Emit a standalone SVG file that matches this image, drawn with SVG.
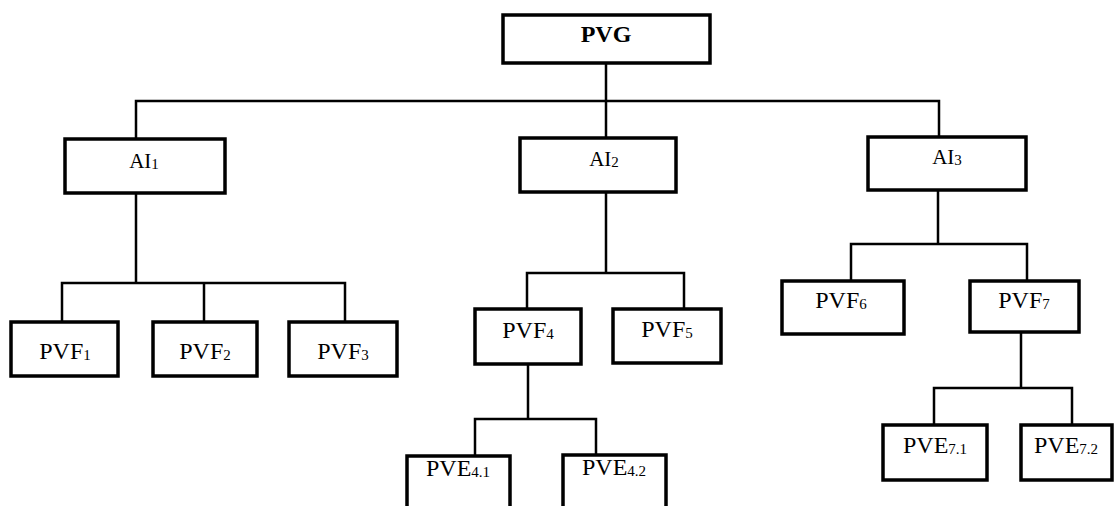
<svg xmlns="http://www.w3.org/2000/svg" width="1116" height="506" viewBox="0 0 1116 506">
  <style>
    .box { fill: #ffffff; stroke: #000000; stroke-width: 3.5; }
    .wire { fill: none; stroke: #000000; stroke-width: 2.5; stroke-linecap: square; }
    .lbl { font-family: "Liberation Serif", "Times New Roman", serif; font-size: 24px; fill: #000000; text-anchor: middle; }
    .ai { font-size: 21px; }
    .sub { font-size: 15px; }
    .root { font-weight: bold; font-size: 24px; }
  </style>
  <rect width="1116" height="506" fill="#ffffff"/>

  <!-- tree connectors -->
  <g id="connectors" class="wire">
    <path d="M606,64 V137 M136,101 H939 M136,101 V138 M939,101 V136"/>
    <path d="M136,194 V283 M62,283 H345 M62,283 V321 M204,283 V321 M345,283 V321"/>
    <path d="M606,193 V273 M527,273 H684 M527,273 V308 M684,273 V308"/>
    <path d="M528,365 V419 M475,419 H596 M475,419 V455 M596,419 V454"/>
    <path d="M938,191 V244 M851,244 H1027 M851,244 V280 M1027,244 V280"/>
    <path d="M1021,333 V388 M934,388 H1072 M934,388 V424 M1072,388 V424"/>
  </g>

  <g id="PVG">
    <rect class="box" x="503" y="15" width="207" height="48"/>
    <text class="lbl root" x="606" y="42">PVG</text>
  </g>

  <g id="AI1">
    <rect class="box" x="65" y="139" width="160" height="54"/>
    <text class="lbl ai" x="144" y="168">AI<tspan class="sub" dy="1">1</tspan></text>
  </g>
  <g id="AI2">
    <rect class="box" x="520" y="138" width="156" height="54"/>
    <text class="lbl ai" x="604" y="166">AI<tspan class="sub" dy="1">2</tspan></text>
  </g>
  <g id="AI3">
    <rect class="box" x="868" y="137" width="158" height="53"/>
    <text class="lbl ai" x="947" y="164">AI<tspan class="sub" dy="1">3</tspan></text>
  </g>

  <g id="PVF1">
    <rect class="box" x="11" y="322" width="107" height="54"/>
    <text class="lbl" x="65" y="359">PVF<tspan class="sub" dy="1">1</tspan></text>
  </g>
  <g id="PVF2">
    <rect class="box" x="153" y="322" width="104" height="54"/>
    <text class="lbl" x="205" y="359">PVF<tspan class="sub" dy="1">2</tspan></text>
  </g>
  <g id="PVF3">
    <rect class="box" x="289" y="322" width="108" height="54"/>
    <text class="lbl" x="343" y="359">PVF<tspan class="sub" dy="1">3</tspan></text>
  </g>
  <g id="PVF4">
    <rect class="box" x="475" y="309" width="106" height="55"/>
    <text class="lbl" x="528" y="338">PVF<tspan class="sub" dy="1">4</tspan></text>
  </g>
  <g id="PVF5">
    <rect class="box" x="613" y="309" width="108" height="54"/>
    <text class="lbl" x="667" y="337">PVF<tspan class="sub" dy="1">5</tspan></text>
  </g>
  <g id="PVF6">
    <rect class="box" x="782" y="281" width="122" height="53"/>
    <text class="lbl" x="841" y="308">PVF<tspan class="sub" dy="1">6</tspan></text>
  </g>
  <g id="PVF7">
    <rect class="box" x="970" y="281" width="109" height="51"/>
    <text class="lbl" x="1024" y="308">PVF<tspan class="sub" dy="1">7</tspan></text>
  </g>

  <g id="PVE4_1">
    <rect class="box" x="407" y="456" width="103" height="70"/>
    <text class="lbl" x="458" y="476">PVE<tspan class="sub" dy="1">4.1</tspan></text>
  </g>
  <g id="PVE4_2">
    <rect class="box" x="563" y="455" width="103" height="70"/>
    <text class="lbl" x="614" y="475">PVE<tspan class="sub" dy="1">4.2</tspan></text>
  </g>
  <g id="PVE7_1">
    <rect class="box" x="883" y="425" width="104" height="55"/>
    <text class="lbl" x="935" y="453">PVE<tspan class="sub" dy="1">7.1</tspan></text>
  </g>
  <g id="PVE7_2">
    <rect class="box" x="1021" y="425" width="91" height="55"/>
    <text class="lbl" x="1066" y="453">PVE<tspan class="sub" dy="1">7.2</tspan></text>
  </g>
</svg>
